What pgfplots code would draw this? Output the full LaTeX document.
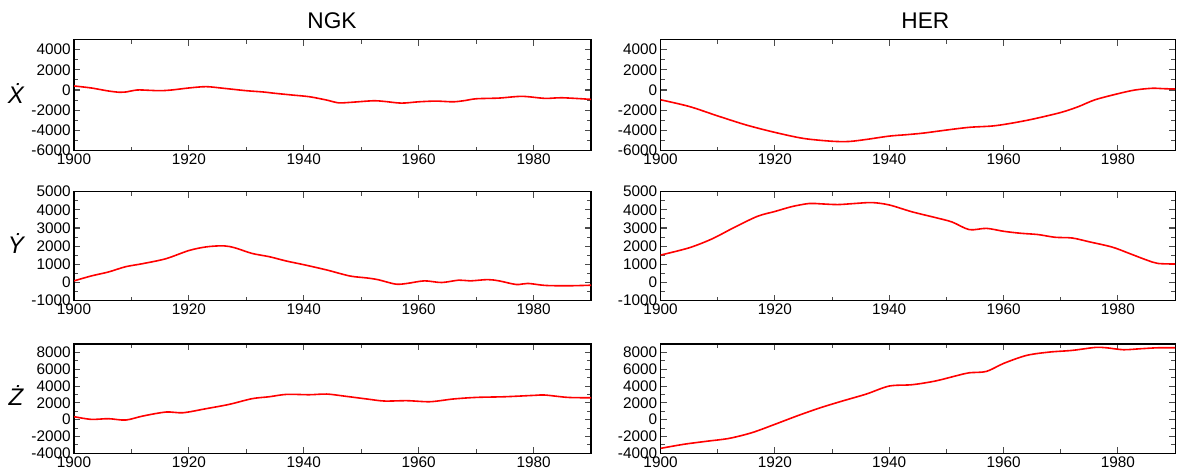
\documentclass[border=0pt]{standalone}
\usepackage{fontspec}
\setmainfont{Liberation Sans}
\usepackage{pgfplots}
\pgfplotsset{compat=1.18}
\pgfplotsset{
  panel/.style={
    scale only axis,
    anchor=south west,
    xmin=1900, xmax=1990,
    xtick={1900,1920,1940,1960,1980},
    minor x tick num=1,
    minor y tick num=1,
    tick pos=both,
    tick align=inside,
    major tick length=4.5pt,
    minor tick length=3pt,
    axis line style={line width=0.8pt},
    every tick/.style={black!70, line width=0.8pt},
    tick label style={font=\fontsize{11.5}{13}\selectfont},
    /pgf/number format/assume math mode=true,
    /pgf/number format/1000 sep={},
    xticklabel style={yshift=1pt},
    yticklabel style={xshift=1pt},
  },
  curve/.style={red, line width=1.2pt, smooth, tension=0.5, no markers},
}
\begin{document}
\begin{tikzpicture}
\useasboundingbox (0,0) rectangle (884.25pt,-354pt);
% titles
\node[font=\fontsize{17}{20}\selectfont] at (249pt,-15.5pt) {NGK};
\node[font=\fontsize{17}{20}\selectfont] at (694pt,-15.5pt) {HER};
% row labels
\node[font=\fontsize{18}{20}\selectfont\itshape] at (12pt,-70pt) {\.{X}};
\node[font=\fontsize{18}{20}\selectfont\itshape] at (12pt,-183pt) {\.{Y}};
\node[font=\fontsize{18}{20}\selectfont\itshape] at (12pt,-297pt) {\.{Z}};

% ---------- Row 1: X ----------
\begin{axis}[panel, at={(55.5pt,-112.9pt)}, width=387.75pt, height=83.25pt,
  ymin=-6000, ymax=5000, ytick={-6000,-4000,...,4000}]
\addplot[curve] coordinates {
(1900,400)(1903,200)(1906,-100)(1908,-230)(1909,-200)(1911,0)(1913,-30)(1915,-70)(1917,0)(1920,200)(1923,330)(1926,170)(1930,-70)(1933,-200)(1935,-330)(1938,-500)(1941,-670)(1944,-1000)(1946,-1270)(1948,-1230)(1952,-1070)(1954,-1130)(1957,-1300)(1960,-1170)(1963,-1100)(1966,-1170)(1968,-1050)(1970,-870)(1974,-800)(1978,-630)(1982,-830)(1985,-770)(1990,-930)
};
\end{axis}
\begin{axis}[panel, at={(495.4pt,-112.9pt)}, width=385.9pt, height=83.25pt,
  ymin=-6000, ymax=5000, ytick={-6000,-4000,...,4000}]
\addplot[curve] coordinates {
(1900,-970)(1905,-1630)(1910,-2570)(1915,-3470)(1920,-4200)(1925,-4800)(1930,-5080)(1933,-5100)(1936,-4900)(1940,-4570)(1943,-4430)(1946,-4270)(1950,-3970)(1954,-3700)(1958,-3570)(1961,-3330)(1965,-2900)(1970,-2230)(1973,-1670)(1976,-970)(1980,-370)(1983,0)(1986,170)(1988,130)(1990,100)
};
\end{axis}

% ---------- Row 2: Y ----------
\begin{axis}[panel, at={(55.5pt,-225.5pt)}, width=387.75pt, height=81.75pt,
  ymin=-1000, ymax=5000, ytick={-1000,0,...,5000}]
\addplot[curve] coordinates {
(1900,90)(1903,360)(1906,580)(1909,870)(1912,1040)(1916,1310)(1920,1760)(1923,1960)(1926,2020)(1928,1910)(1931,1600)(1934,1420)(1937,1180)(1940,980)(1944,690)(1948,360)(1951,250)(1953,150)(1956,-90)(1958,-50)(1961,90)(1964,0)(1967,130)(1969,90)(1972,160)(1974,90)(1977,-110)(1979,-50)(1982,-160)(1986,-180)(1990,-150)
};
\end{axis}
\begin{axis}[panel, at={(495.4pt,-225.5pt)}, width=385.9pt, height=81.75pt,
  ymin=-1000, ymax=5000, ytick={-1000,0,...,5000}]
\addplot[curve] coordinates {
(1900,1510)(1905,1910)(1909,2400)(1913,3050)(1917,3650)(1920,3910)(1923,4180)(1926,4350)(1928,4330)(1931,4290)(1934,4350)(1937,4400)(1940,4270)(1944,3890)(1948,3580)(1951,3330)(1954,2910)(1957,2980)(1960,2820)(1963,2710)(1966,2640)(1969,2490)(1972,2450)(1975,2240)(1979,1950)(1982,1600)(1985,1240)(1987,1050)(1990,1020)
};
\end{axis}

% ---------- Row 3: Z ----------
\begin{axis}[panel, at={(55.5pt,-340pt)}, width=387.75pt, height=82pt,
  ymin=-4000, ymax=9000, ytick={-4000,-2000,...,8000}]
\addplot[curve] coordinates {
(1900,360)(1903,40)(1906,120)(1909,-40)(1912,440)(1916,910)(1919,830)(1923,1310)(1927,1820)(1931,2500)(1934,2730)(1937,3010)(1941,2970)(1944,3050)(1947,2810)(1951,2460)(1954,2220)(1958,2260)(1962,2140)(1966,2460)(1970,2650)(1975,2730)(1980,2890)(1982,2930)(1986,2650)(1990,2610)
};
\end{axis}
\begin{axis}[panel, at={(495.4pt,-340pt)}, width=385.9pt, height=82pt,
  ymin=-4000, ymax=9000, ytick={-4000,-2000,...,8000}]
\addplot[curve] coordinates {
(1900,-3410)(1904,-2930)(1908,-2570)(1912,-2220)(1916,-1540)(1920,-550)(1924,480)(1928,1430)(1932,2260)(1936,3050)(1940,4000)(1944,4160)(1948,4590)(1952,5270)(1954,5580)(1957,5740)(1960,6690)(1964,7640)(1968,8040)(1972,8240)(1976,8590)(1978,8550)(1981,8320)(1984,8440)(1987,8550)(1990,8550)
};
\end{axis}
\end{tikzpicture}
\end{document}
